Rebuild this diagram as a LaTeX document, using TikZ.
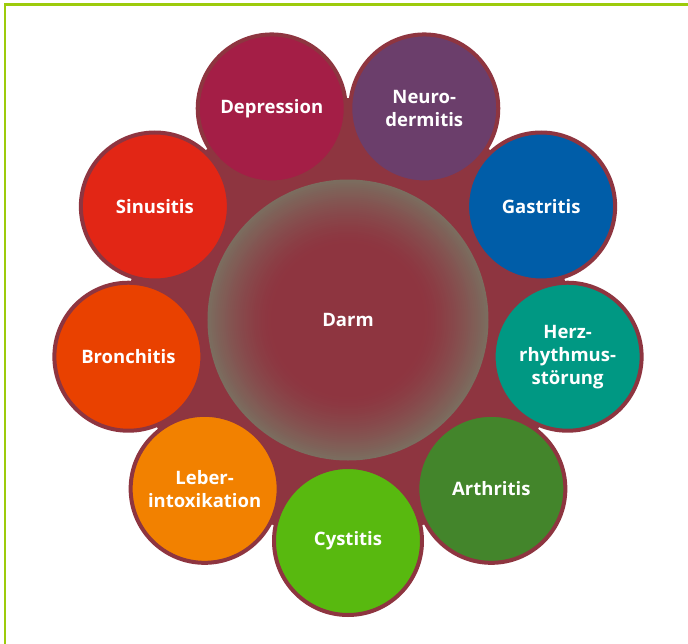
\documentclass[tikz,border=0pt]{standalone}
\usepackage{fontspec}
\setmainfont{Open Sans}
\usepackage{tikz}
\usetikzlibrary{positioning}

\definecolor{ringred}{HTML}{8E3540}
\definecolor{darmrim}{HTML}{7B6D5F}
\definecolor{framegreen}{HTML}{9DCB0C}
\definecolor{depr}{HTML}{A41E46}
\definecolor{neuro}{HTML}{6B3E6B}
\definecolor{gastr}{HTML}{005DA8}
\definecolor{herz}{HTML}{009883}
\definecolor{arthr}{HTML}{43852B}
\definecolor{cyst}{HTML}{58B90F}
\definecolor{leber}{HTML}{F28100}
\definecolor{bronch}{HTML}{E94100}
\definecolor{sinus}{HTML}{E22615}

\begin{document}
\begin{tikzpicture}[
      x=1pt, y=1pt,
      ill/.style={
          circle,
          draw=ringred,
          line width=4pt,
          inner sep=0pt,
          minimum size=148pt,
          align=center,
          text=white,
          font=\fontsize{18.5}{23}\selectfont\bfseries
        },
      gut/.style={
          circle,
          inner sep=0pt,
          minimum size=281pt,
          text=white,
          font=\fontsize{18.5}{23}\selectfont\bfseries
        }
    ]
    \useasboundingbox (-348,-325) rectangle (340,318);

    % Frame
    \draw[framegreen, line width=2.5pt] (-343,-330) rectangle (346,313.5);

    % Ring
    \fill[ringred] (0,0) circle (220pt);

    % Darm glow, grey rim fading into red
    \foreach \i in {0,...,32} {
        \pgfmathsetmacro{\r}{140.5-2*\i}
        \pgfmathsetmacro{\p}{100*(1-\i/32)^1.4}
        \fill[darmrim!\p!ringred] (0,-2) circle (\r pt);
      }
    \node[gut] (darm) at (0,-2) {Darm};

    % Nodes
    \node[ill, fill=depr] (depression) at (110:223) {Depression};
    \node[ill, fill=neuro] (neurodermitis) at (70:223) {Neuro-\\dermitis};
    \node[ill, fill=gastr] (gastritis) at (30:223) {Gastritis};
    \node[ill, fill=herz] (herz) at (-10:223) {Herz-\\rhythmus-\\störung};
    \node[ill, fill=arthr] (arthritis) at (-50:223) {Arthritis};
    \node[ill, fill=cyst] (cystitis) at (-90:223) {Cystitis};
    \node[ill, fill=leber] (leber) at (-130:223) {Leber-\\intoxikation};
    \node[ill, fill=bronch] (bronchitis) at (-170:223) {Bronchitis};
    \node[ill, fill=sinus] (sinusitis) at (150:223) {Sinusitis};

  \end{tikzpicture}
\end{document}
